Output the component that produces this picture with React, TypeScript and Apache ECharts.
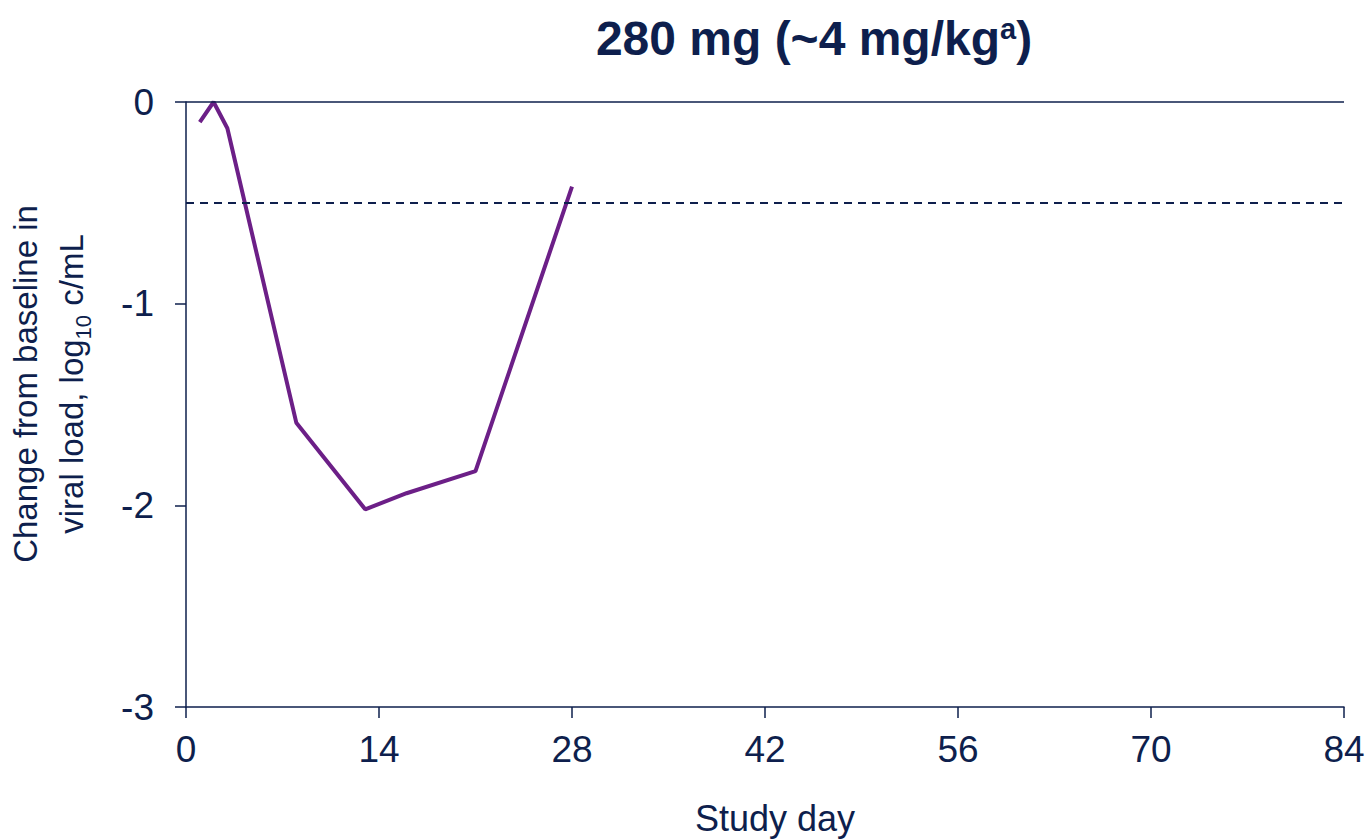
import React, { useEffect, useRef } from "react";
import * as echarts from "echarts";

const studyDays = [1, 2, 3, 8, 13, 16, 21, 28];
const viralLoadChange = [-0.1, 0.0, -0.13, -1.59, -2.02, -1.94, -1.83, -0.42];
const xTicks = [0, 14, 28, 42, 56, 70, 84];
const yTicks = [-3, -2, -1, 0];
const thresholdValue = -0.5;

const NAVY = "#0e1f4d";
const PURPLE = "#6c1f87";
const FONT = "'Liberation Sans', Arial, sans-serif";

export default function App() {
  const ref = useRef<HTMLDivElement>(null);
  useEffect(() => {
    if (!ref.current) return;
    const chart = echarts.init(ref.current, null, { renderer: "svg" });
    chart.setOption({
      animation: false,
      backgroundColor: "#ffffff",
      textStyle: { fontFamily: FONT },
      grid: { left: 186, right: 25, top: 102, bottom: 133, containLabel: false },
      xAxis: {
        type: "value",
        min: xTicks[0],
        max: xTicks[xTicks.length - 1],
        interval: 14,
        axisLine: { show: true, onZero: false, lineStyle: { color: NAVY, width: 1.5 } },
        axisTick: { show: true, length: 11, inside: false, lineStyle: { color: NAVY, width: 1.5 } },
        axisLabel: { color: NAVY, fontSize: 37, margin: 24, fontFamily: FONT },
        splitLine: { show: false },
      },
      yAxis: {
        type: "value",
        min: yTicks[0],
        max: yTicks[yTicks.length - 1],
        interval: 1,
        axisLine: { show: true, onZero: false, lineStyle: { color: NAVY, width: 1.5 } },
        axisTick: { show: true, length: 11, inside: false, lineStyle: { color: NAVY, width: 1.5 } },
        axisLabel: { color: NAVY, fontSize: 37, margin: 32, fontFamily: FONT },
        splitLine: { show: false },
      },
      graphic: [
        {
          type: "text",
          x: 814,
          y: 38,
          style: {
            text: "280 mg (~4 mg/kg{sup|a})",
            fill: NAVY,
            fontWeight: "bold",
            fontSize: 48,
            fontFamily: FONT,
            align: "center",
            verticalAlign: "middle",
            rich: {
              sup: {
                fontSize: 29,
                fontWeight: "bold",
                fontFamily: FONT,
                fill: NAVY,
                verticalAlign: "top",
                lineHeight: 29,
                padding: [0, 0, 14, 0],
              },
            },
          },
        },
        {
          type: "text",
          x: 48,
          y: 384,
          rotation: Math.PI / 2,
          style: {
            text: "Change from baseline in\nviral load, log{sub|10} c/mL",
            fill: NAVY,
            fontSize: 33,
            fontFamily: FONT,
            lineHeight: 46,
            align: "center",
            verticalAlign: "middle",
            rich: {
              sub: {
                fontSize: 22,
                fontFamily: FONT,
                fill: NAVY,
                verticalAlign: "bottom",
                lineHeight: 22,
              },
            },
          },
        },
        {
          type: "text",
          x: 775,
          y: 818,
          style: {
            text: "Study day",
            fill: NAVY,
            fontSize: 36,
            fontFamily: FONT,
            align: "center",
            verticalAlign: "middle",
          },
        },
      ],
      series: [
        {
          type: "line",
          data: studyDays.map((d, i) => [d, viralLoadChange[i]]),
          showSymbol: false,
          symbol: "none",
          lineStyle: { color: PURPLE, width: 4 },
          itemStyle: { color: PURPLE },
          z: 3,
          markLine: {
            silent: true,
            symbol: "none",
            label: { show: false },
            data: [
              { yAxis: 0, lineStyle: { color: NAVY, width: 1.5, type: "solid" } },
              { yAxis: thresholdValue, lineStyle: { color: NAVY, width: 2, type: [8, 6] } },
            ],
          },
        },
      ],
    });
    return () => chart.dispose();
  }, []);
  return (
    <div
      ref={ref}
      style={{ position: "absolute", left: 0, top: 0, width: 1369, height: 840 }}
    />
  );
}
